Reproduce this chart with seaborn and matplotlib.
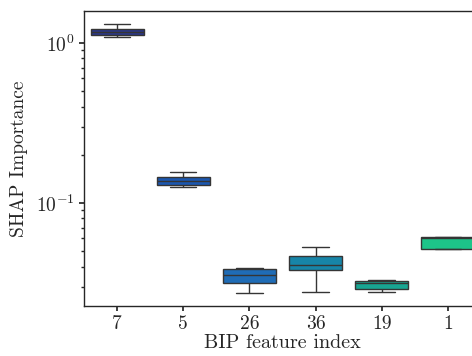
import numpy as np
import pandas as pd
import matplotlib
matplotlib.use("Agg")
import matplotlib.pyplot as plt
import seaborn as sns

# feature order as shown on the x axis
features = ["7", "5", "26", "36", "19", "1"]

# five-number summaries: low whisker, q1, median, q3, high whisker
f7 = [1.09, 1.12, 1.17, 1.22, 1.31]
f5 = [0.1265, 0.129, 0.137, 0.145, 0.155]
f26 = [0.0275, 0.0318, 0.0353, 0.0389, 0.0390]
f36 = [0.0278, 0.0381, 0.0410, 0.0464, 0.0533]
f19 = [0.0278, 0.0288, 0.0318, 0.0326, 0.0329]
f1 = [0.0513, 0.0513, 0.0605, 0.0610, 0.0610]

box_colors = ["#2a3788", "#1b57b0", "#1f6cb6", "#1785a8", "#18a592", "#1dc489"]

rows = []
for name, vals in zip(features, [f7, f5, f26, f36, f19, f1]):
    for v in vals:
        rows.append({"feature": name, "shap": v})
df = pd.DataFrame(rows)

sns.set_theme(style="ticks")
plt.rcParams["font.family"] = "serif"
plt.rcParams["font.serif"] = ["cmr10", "DejaVu Serif"]
plt.rcParams["mathtext.fontset"] = "cm"
plt.rcParams["axes.formatter.use_mathtext"] = True
plt.rcParams["axes.unicode_minus"] = False
plt.rcParams["axes.linewidth"] = 1.0
plt.rcParams["xtick.major.size"] = 3.5
plt.rcParams["ytick.major.size"] = 3.5
plt.rcParams["ytick.minor.size"] = 2
plt.rcParams["xtick.major.pad"] = 3
plt.rcParams["ytick.major.pad"] = 3

fig = plt.figure(figsize=(4.72, 3.56), dpi=100)
ax = fig.add_axes([0.178, 0.1404, 0.841, 0.829])

sns.boxplot(data=df, x="feature", y="shap", order=features, hue="feature",
            palette=box_colors, saturation=1, width=0.8, legend=False, ax=ax)
ax.set_yscale("log")
ax.set_ylim(0.0227, 1.585)
ax.set_xlim(-0.5, 5.5)

ax.set_xlabel("BIP feature index", fontsize=14.5, labelpad=1)
ax.set_ylabel("SHAP Importance", fontsize=14, labelpad=6)
ax.tick_params(axis="both", labelsize=14)

fig.savefig("out.png", dpi=100)
